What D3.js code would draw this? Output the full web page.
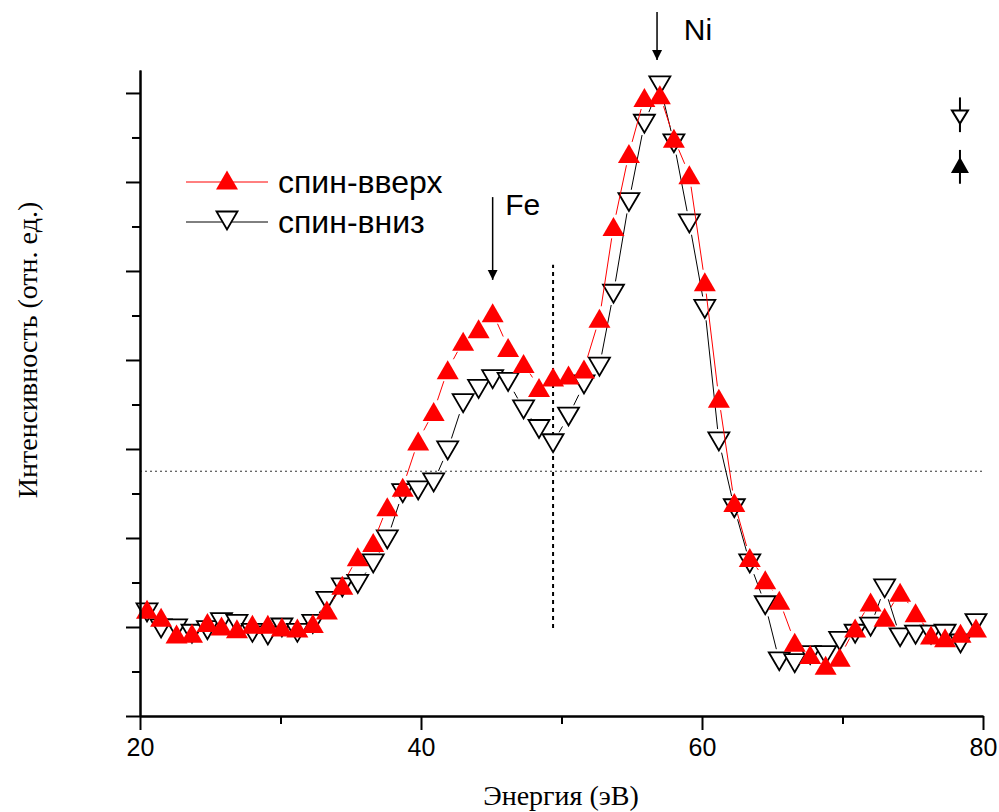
<!DOCTYPE html>
<html>
<head>
<meta charset="utf-8">
<script src="https://cdn.jsdelivr.net/npm/d3@7"></script>
<style>
  body { margin: 0; background: white; }
  svg { display: block; }
</style>
</head>
<body>
<script>
// energies (eV), shared by both series
const energy = [20.5, 21.5, 22.6, 23.7, 24.8, 25.8, 26.9, 28.0, 29.1, 30.1,
  31.2, 32.3, 33.3, 34.4, 35.5, 36.6, 37.6, 38.7, 39.8, 40.9,
  41.9, 43.0, 44.1, 45.1, 46.2, 47.3, 48.4, 49.4, 50.5, 51.6,
  52.7, 53.7, 54.8, 55.9, 57.0, 58.0, 59.1, 60.2, 61.2, 62.3,
  63.4, 64.5, 65.5, 66.6, 67.7, 68.8, 69.8, 70.9, 72.0, 73.0,
  74.1, 75.2, 76.3, 77.3, 78.4, 79.5]

// spin up (red)
const spinUp = [1.20, 1.11, 0.92, 0.93, 1.05, 1.01, 0.98, 1.03, 1.03, 1.00,
  0.99, 1.04, 1.19, 1.47, 1.79, 1.95, 2.35, 2.57, 3.09, 3.42,
  3.89, 4.21, 4.35, 4.53, 4.14, 3.96, 3.69, 3.81, 3.83, 3.90,
  4.47, 5.50, 6.32, 6.95, 6.98, 6.49, 6.08, 4.88, 3.57, 2.40,
  1.78, 1.53, 1.30, 0.83, 0.69, 0.57, 0.66, 0.99, 1.28, 1.11,
  1.39, 1.16, 0.91, 0.88, 0.93, 0.99]

// spin down (black)
const spinDown = [1.17, 0.99, 0.99, 0.93, 0.97, 1.06, 1.04, 0.94, 0.91, 1.00,
  0.94, 1.04, 1.30, 1.45, 1.49, 1.72, 1.99, 2.51, 2.54, 2.63,
  2.99, 3.52, 3.68, 3.79, 3.76, 3.45, 3.23, 3.07, 3.37, 3.73,
  3.93, 4.75, 5.78, 6.66, 7.09, 6.44, 5.54, 4.58, 3.09, 2.34,
  1.72, 1.25, 0.62, 0.60, 0.69, 0.69, 0.85, 0.93, 1.01, 1.44,
  0.89, 0.92, 0.92, 0.93, 0.82, 1.05]

// ticks
const xMajor = [20, 40, 60, 80]
const xMinor = [30, 50, 70]
const yMajor = [0, 1, 2, 3, 4, 5, 6, 7]
const yMinor = [0.5, 1.5, 2.5, 3.5, 4.5, 5.5, 6.5]

// reference lines and arrows
const vLine = [49.4, 0.99, 5.07] // x, y0, y1
const hLine = 2.75
const arrows = [
  { name: "Fe", x: 45.1, y0: 5.83, y1: 4.90, lx: 46.0, ly: 5.63 },
  { name: "Ni", x: 56.8, y0: 7.91, y1: 7.37, lx: 58.7, ly: 7.60 }
]

const width = 999, height = 812
const plotLeft = 140, plotRight = 983, plotTop = 70, plotBottom = 716

const x = d3.scaleLinear().domain([20, 80]).range([plotLeft, plotRight])
const y = d3.scaleLinear().domain([0, 7.258]).range([plotBottom, plotTop])

const svg = d3.select("body").append("svg")
  .attr("width", width)
  .attr("height", height)

const sans = "'Liberation Sans', Arial, sans-serif"
const serif = "'Liberation Serif', 'Times New Roman', serif"

// marker shapes
const upTri = "M0,-9.5L11,9.5L-11,9.5Z"
const downTri = "M-10.5,-8.5L10.5,-8.5L0,9.5Z"

// reference lines
svg.append("line")
  .attr("x1", x(20)).attr("x2", x(80))
  .attr("y1", y(hLine)).attr("y2", y(hLine))
  .attr("stroke", "#333").attr("stroke-width", 1)
  .attr("stroke-dasharray", "2,3")
svg.append("line")
  .attr("x1", x(vLine[0])).attr("x2", x(vLine[0]))
  .attr("y1", y(vLine[1])).attr("y2", y(vLine[2]))
  .attr("stroke", "black").attr("stroke-width", 2)
  .attr("stroke-dasharray", "4,4")

// series: broken line between symbols, then symbols
const drawSeries = (values, color, shape, fill, strokeW) => {
  const pts = energy.map((e, i) => [x(e), y(values[i])])
  const gap = 12
  const segs = []
  for (let i = 0; i < pts.length - 1; i++) {
    const [x0, y0] = pts[i], [x1, y1] = pts[i + 1]
    const d = Math.hypot(x1 - x0, y1 - y0)
    if (d > gap * 2) {
      const ux = (x1 - x0) / d, uy = (y1 - y0) / d
      segs.push([x0 + ux * gap, y0 + uy * gap, x1 - ux * gap, y1 - uy * gap])
    }
  }
  svg.append("g").selectAll("line")
    .data(segs)
    .join("line")
    .attr("x1", d => d[0]).attr("y1", d => d[1])
    .attr("x2", d => d[2]).attr("y2", d => d[3])
    .attr("stroke", color).attr("stroke-width", 1)
  svg.append("g").selectAll("path")
    .data(pts)
    .join("path")
    .attr("d", shape)
    .attr("transform", d => `translate(${d[0]},${d[1]})`)
    .attr("fill", fill)
    .attr("stroke", color)
    .attr("stroke-width", strokeW)
}
drawSeries(spinDown, "black", downTri, "white", 1.8)
drawSeries(spinUp, "red", upTri, "red", 0)

// axes
const xAxis = svg.append("g").attr("transform", `translate(0,${plotBottom})`)
xAxis.call(d3.axisBottom(x).tickValues(xMajor).tickSize(14).tickPadding(8).tickSizeOuter(0))
xAxis.append("g").call(d3.axisBottom(x).tickValues(xMinor).tickSize(8).tickFormat("").tickSizeOuter(0))
xAxis.selectAll(".domain").attr("stroke-width", 2)
xAxis.selectAll(".tick line").attr("stroke-width", 2)
xAxis.selectAll("text")
  .attr("font-family", sans).attr("font-size", 25).attr("fill", "black")

const yAxis = svg.append("g").attr("transform", `translate(${plotLeft},0)`)
yAxis.call(d3.axisLeft(y).tickValues(yMajor).tickSize(14).tickFormat("").tickSizeOuter(0))
yAxis.append("g").call(d3.axisLeft(y).tickValues(yMinor).tickSize(8).tickFormat("").tickSizeOuter(0))
yAxis.selectAll(".domain").attr("stroke-width", 2)
yAxis.selectAll(".tick line").attr("stroke-width", 2)

// axis titles
svg.append("text")
  .text("Энергия (эВ)")
  .attr("x", 561).attr("y", 805)
  .attr("text-anchor", "middle")
  .attr("font-family", serif).attr("font-size", 28)
svg.append("text")
  .text("Интенсивность (отн. ед.)")
  .attr("transform", "translate(37,350) rotate(-90)")
  .attr("text-anchor", "middle")
  .attr("font-family", serif).attr("font-size", 28)

// arrows
svg.append("defs").append("marker")
  .attr("id", "head")
  .attr("viewBox", "0 0 10 20")
  .attr("refX", 10).attr("refY", 10)
  .attr("markerWidth", 10).attr("markerHeight", 20)
  .attr("markerUnits", "userSpaceOnUse")
  .attr("orient", "auto")
  .append("path")
  .attr("d", "M0,5L10,10L0,15Z")
  .attr("fill", "black")

arrows.forEach(a => {
  svg.append("line")
    .attr("x1", x(a.x)).attr("x2", x(a.x))
    .attr("y1", y(a.y0)).attr("y2", y(a.y1))
    .attr("stroke", "black").attr("stroke-width", 1.5)
    .attr("marker-end", "url(#head)")
  svg.append("text")
    .text(a.name)
    .attr("x", x(a.lx)).attr("y", y(a.ly))
    .attr("font-family", sans).attr("font-size", 30)
})

// spin symbols in the corner
const corner = svg.append("g").attr("transform", `translate(${x(78.36)},0)`)
corner.append("line")
  .attr("y1", y(6.95)).attr("y2", y(6.56))
  .attr("stroke", "black").attr("stroke-width", 2)
corner.append("path")
  .attr("d", "M-8,-6.5L8,-6.5L0,6.5Z")
  .attr("transform", `translate(0,${y(6.73)})`)
  .attr("fill", "white").attr("stroke", "black").attr("stroke-width", 2)
corner.append("line")
  .attr("y1", y(6.36)).attr("y2", y(5.98))
  .attr("stroke", "black").attr("stroke-width", 2)
corner.append("path")
  .attr("d", "M0,-8L9,8L-9,8Z")
  .attr("transform", `translate(0,${y(6.19)})`)
  .attr("fill", "black")

// legend
const legend = svg.append("g")
const items = [
  { label: "спин-вверх", color: "red", shape: upTri, fill: "red", sw: 0, y: 182 },
  { label: "спин-вниз", color: "black", shape: downTri, fill: "white", sw: 1.8, y: 222 }
]
items.forEach(it => {
  legend.append("line")
    .attr("x1", 186).attr("x2", 268)
    .attr("y1", it.y).attr("y2", it.y)
    .attr("stroke", it.color).attr("stroke-width", 1)
  legend.append("path")
    .attr("d", it.shape)
    .attr("transform", `translate(227,${it.y - 2})`)
    .attr("fill", it.fill).attr("stroke", it.color).attr("stroke-width", it.sw)
  legend.append("text")
    .text(it.label)
    .attr("x", 278).attr("y", it.y + 11)
    .attr("font-family", sans).attr("font-size", 32)
})
</script>
</body>
</html>
